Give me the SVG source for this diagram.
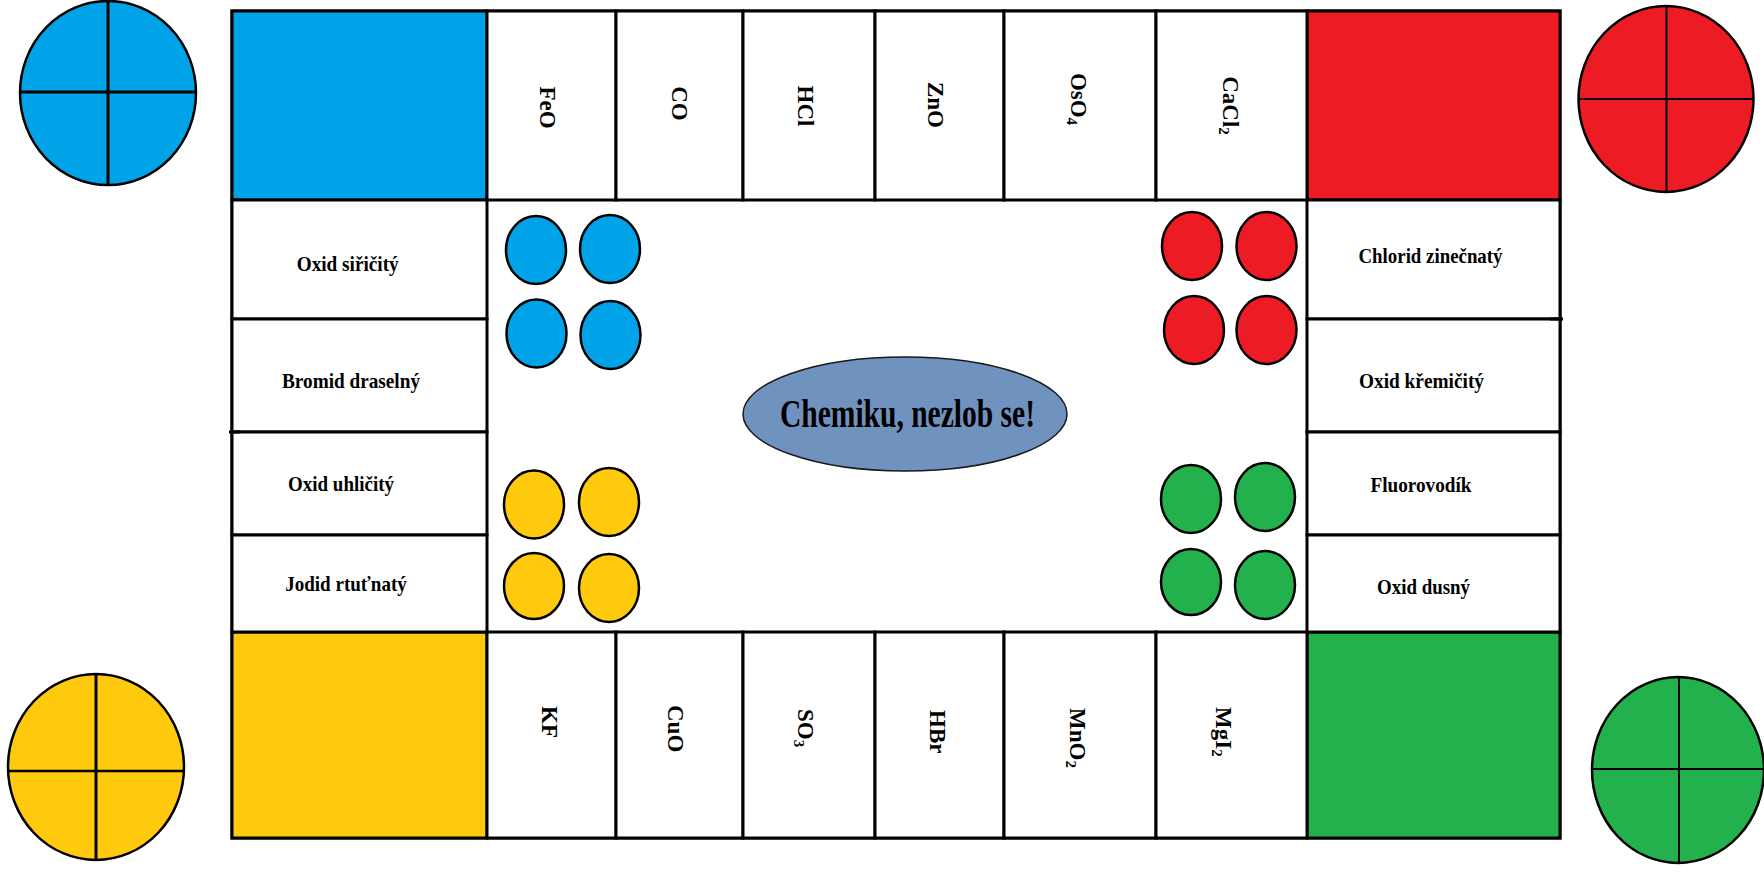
<svg xmlns="http://www.w3.org/2000/svg" width="1764" height="873" viewBox="0 0 1764 873">
<style>
.line{stroke:#000;stroke-width:3;fill:none}
.cell{stroke:#000;stroke-width:3}
.lbl{font-family:"Liberation Serif","Times New Roman",serif;font-weight:bold;font-size:22px;fill:#000}
.rot{font-family:"Liberation Serif","Times New Roman",serif;font-weight:bold;font-size:23px;fill:#000}
.sub{font-size:15px}
.tok{stroke:#000;stroke-width:2.5}
.big{stroke:#000;stroke-width:2.5}
.b{fill:#00a2e8}.r{fill:#ed1c24}.y{fill:#ffc90e}.g{fill:#22b14c}.w{fill:#fff}
</style>
<rect width="1764" height="873" fill="#fff"/>

<!-- big home circles -->
<g id="home-blue">
<ellipse class="big b" cx="108" cy="93" rx="88" ry="92"/>
<line x1="108" y1="1" x2="108" y2="185" stroke="#000" stroke-width="3"/>
<line x1="20" y1="92" x2="196" y2="92" stroke="#000" stroke-width="3"/>
</g>
<g id="home-red">
<ellipse class="big r" cx="1666" cy="99" rx="87.5" ry="93"/>
<line x1="1666.5" y1="6" x2="1666.5" y2="192" stroke="#000" stroke-width="2"/>
<line x1="1578.5" y1="99" x2="1753.5" y2="99" stroke="#000" stroke-width="2"/>
</g>
<g id="home-yellow">
<ellipse class="big y" cx="96" cy="767" rx="88" ry="93"/>
<line x1="96" y1="674" x2="96" y2="860" stroke="#000" stroke-width="3"/>
<line x1="8" y1="771" x2="184" y2="771" stroke="#000" stroke-width="2.5"/>
</g>
<g id="home-green">
<ellipse class="big g" cx="1678" cy="770" rx="86" ry="93"/>
<line x1="1679" y1="677" x2="1679" y2="863" stroke="#000" stroke-width="2"/>
<line x1="1592" y1="769" x2="1764" y2="769" stroke="#000" stroke-width="2"/>
</g>

<!-- board -->
<g id="board">
<rect class="cell w" x="232" y="11" width="1328" height="827"/>
</g>

<!-- corners -->
<g id="corner-blue"><rect class="cell b" x="232" y="11" width="255" height="189"/></g>
<g id="corner-red"><rect class="cell r" x="1307" y="11" width="253" height="189"/></g>
<g id="corner-yellow"><rect class="cell y" x="232" y="632" width="255" height="206"/></g>
<g id="corner-green"><rect class="cell g" x="1307" y="632" width="253" height="206"/></g>

<!-- top row cells -->
<g id="top-FeO"><rect class="cell w" x="487" y="11" width="129" height="189"/>
<text class="rot" transform="translate(540,107.5) rotate(90)" text-anchor="middle">FeO</text></g>
<g id="top-CO"><rect class="cell w" x="616" y="11" width="127" height="189"/>
<text class="rot" transform="translate(672,103.5) rotate(90)" text-anchor="middle">CO</text></g>
<g id="top-HCl"><rect class="cell w" x="743" y="11" width="132" height="189"/>
<text class="rot" transform="translate(798,106) rotate(90)" text-anchor="middle">HCl</text></g>
<g id="top-ZnO"><rect class="cell w" x="875" y="11" width="129" height="189"/>
<text class="rot" transform="translate(927.5,105) rotate(90)" text-anchor="middle">ZnO</text></g>
<g id="top-OsO4"><rect class="cell w" x="1004" y="11" width="152" height="189"/>
<text class="rot" transform="translate(1071,99) rotate(90)" text-anchor="middle">OsO<tspan class="sub" dy="4">4</tspan></text></g>
<g id="top-CaCl2"><rect class="cell w" x="1156" y="11" width="151" height="189"/>
<text class="rot" transform="translate(1223,105.5) rotate(90)" text-anchor="middle">CaCl<tspan class="sub" dy="4">2</tspan></text></g>

<!-- bottom row cells -->
<g id="bot-KF"><rect class="cell w" x="487" y="632" width="129" height="206"/>
<text class="rot" transform="translate(541.5,706) rotate(90)">KF</text></g>
<g id="bot-CuO"><rect class="cell w" x="616" y="632" width="127" height="206"/>
<text class="rot" transform="translate(668,705) rotate(90)">CuO</text></g>
<g id="bot-SO3"><rect class="cell w" x="743" y="632" width="132" height="206"/>
<text class="rot" transform="translate(798,709) rotate(90)">SO<tspan class="sub" dy="4">3</tspan></text></g>
<g id="bot-HBr"><rect class="cell w" x="875" y="632" width="129" height="206"/>
<text class="rot" transform="translate(930,710) rotate(90)">HBr</text></g>
<g id="bot-MnO2"><rect class="cell w" x="1004" y="632" width="152" height="206"/>
<text class="rot" transform="translate(1070,708) rotate(90)">MnO<tspan class="sub" dy="4">2</tspan></text></g>
<g id="bot-MgI2"><rect class="cell w" x="1156" y="632" width="151" height="206"/>
<text class="rot" transform="translate(1216,707) rotate(90)">MgI<tspan class="sub" dy="4">2</tspan></text></g>

<!-- left column cells -->
<g id="left-1"><rect class="cell w" x="232" y="200" width="255" height="119"/>
<text class="lbl" x="347.7" y="270.5" text-anchor="middle" textLength="102" lengthAdjust="spacingAndGlyphs">Oxid siřičitý</text></g>
<g id="left-2"><rect class="cell w" x="232" y="319" width="255" height="113"/>
<text class="lbl" x="351" y="388" text-anchor="middle" textLength="138" lengthAdjust="spacingAndGlyphs">Bromid draselný</text></g>
<g id="left-3"><rect class="cell w" x="232" y="432" width="255" height="103"/>
<text class="lbl" x="341" y="491" text-anchor="middle" textLength="106" lengthAdjust="spacingAndGlyphs">Oxid uhličitý</text></g>
<g id="left-4"><rect class="cell w" x="232" y="535" width="255" height="97"/>
<text class="lbl" x="346" y="590.5" text-anchor="middle" textLength="121.6" lengthAdjust="spacingAndGlyphs">Jodid rtuťnatý</text></g>

<!-- right column cells -->
<g id="right-1"><rect class="cell w" x="1307" y="200" width="253" height="119"/>
<text class="lbl" x="1430.5" y="263" text-anchor="middle" textLength="144" lengthAdjust="spacingAndGlyphs">Chlorid zinečnatý</text></g>
<g id="right-2"><rect class="cell w" x="1307" y="319" width="253" height="113"/>
<text class="lbl" x="1421.5" y="388" text-anchor="middle" textLength="125" lengthAdjust="spacingAndGlyphs">Oxid křemičitý</text></g>
<g id="right-3"><rect class="cell w" x="1307" y="432" width="253" height="103"/>
<text class="lbl" x="1421" y="492" text-anchor="middle" textLength="101" lengthAdjust="spacingAndGlyphs">Fluorovodík</text></g>
<g id="right-4"><rect class="cell w" x="1307" y="535" width="253" height="97"/>
<text class="lbl" x="1423.5" y="593.5" text-anchor="middle" textLength="93" lengthAdjust="spacingAndGlyphs">Oxid dusný</text></g>

<!-- small line overhangs -->
<line class="line" x1="229" y1="432" x2="240" y2="432"/>
<line class="line" x1="1550" y1="319" x2="1563" y2="319"/>

<!-- tokens -->
<g id="tokens-blue" class="b">
<ellipse class="tok" cx="536" cy="250" rx="30" ry="34"/>
<ellipse class="tok" cx="610" cy="249" rx="30" ry="34"/>
<ellipse class="tok" cx="536.5" cy="333.5" rx="30" ry="34"/>
<ellipse class="tok" cx="610.5" cy="335" rx="30" ry="34"/>
</g>
<g id="tokens-yellow" class="y">
<ellipse class="tok" cx="534" cy="504.5" rx="30" ry="34"/>
<ellipse class="tok" cx="609" cy="502" rx="30" ry="34"/>
<ellipse class="tok" cx="534" cy="586" rx="30" ry="33"/>
<ellipse class="tok" cx="609" cy="588" rx="30" ry="34"/>
</g>
<g id="tokens-red" class="r">
<ellipse class="tok" cx="1192" cy="246" rx="30" ry="34"/>
<ellipse class="tok" cx="1266.5" cy="246" rx="30" ry="34"/>
<ellipse class="tok" cx="1194" cy="330" rx="30" ry="34"/>
<ellipse class="tok" cx="1266.5" cy="330" rx="30" ry="34"/>
</g>
<g id="tokens-green" class="g">
<ellipse class="tok" cx="1191" cy="499" rx="30" ry="34"/>
<ellipse class="tok" cx="1265" cy="497" rx="30" ry="34"/>
<ellipse class="tok" cx="1191" cy="582" rx="30" ry="33"/>
<ellipse class="tok" cx="1265" cy="585" rx="30" ry="34"/>
</g>

<!-- centre title -->
<g id="title">
<ellipse cx="905" cy="414" rx="162" ry="57" fill="#7092be" stroke="#1a1a1a" stroke-width="1.5"/>
<text class="lbl" x="907.5" y="427" text-anchor="middle" style="font-size:40px" textLength="255" lengthAdjust="spacingAndGlyphs">Chemiku, nezlob se!</text>
</g>

<g id="connectors"/>
</svg>
